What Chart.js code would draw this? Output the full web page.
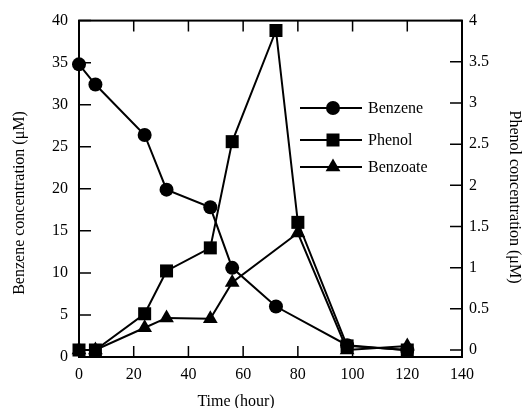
<!DOCTYPE html>
<html>
<head>
<meta charset="utf-8">
<script src="https://cdn.jsdelivr.net/npm/chart.js@4.4.1/dist/chart.umd.min.js"></script>
<style>
  html, body { margin: 0; padding: 0; background: #fff; }
  #wrap { width: 525px; height: 408px; }
</style>
</head>
<body>
<div id="wrap"><canvas id="chem-chart"></canvas></div>
<script>
'use strict';

// values
var benzeneTime = [0, 6, 24, 32, 48, 56, 72, 98, 120];
var benzene = [34.8, 32.4, 26.4, 19.9, 17.8, 10.6, 6.0, 1.4, 0.8];

var phenolTime = [0, 6, 24, 32, 48, 56, 72, 80, 98, 120];
var phenol = [0, 0, 0.44, 0.96, 1.24, 2.53, 3.88, 1.55, 0.05, 0];

var benzoateTime = [0, 6, 24, 32, 48, 56, 80, 98, 120];
var benzoate = [0, 0, 0.27, 0.39, 0.38, 0.82, 1.42, 0.0, 0.05];

var timeTicks = [0, 20, 40, 60, 80, 100, 120, 140];
var benzeneTicks = [0, 5, 10, 15, 20, 25, 30, 35, 40];
var phenolTicks = [0, 0.5, 1, 1.5, 2, 2.5, 3, 3.5, 4];

var FONT = '"Liberation Serif", "Times New Roman", serif';

function toPoints(xs, ys) {
    return xs.map(function (x, i) { return { x: x, y: ys[i] }; });
}

function setTicks(list) {
    return function (scale) {
        scale.ticks = list.map(function (v) { return { value: v }; });
    };
}

function plainLabel(value) {
    return String(value);
}

function drawMarker(ctx, style, x, y) {
    ctx.beginPath();
    if (style === 'circle') {
        ctx.arc(x, y, 7, 0, Math.PI * 2);
    } else if (style === 'rect') {
        ctx.rect(x - 6.5, y - 6.5, 13, 13);
    } else {
        ctx.moveTo(x, y - 8.5);
        ctx.lineTo(x + 7.4, y + 4.3);
        ctx.lineTo(x - 7.4, y + 4.3);
        ctx.closePath();
    }
    ctx.fill();
}

// frame, inward tick marks, legend and axis titles
var decorations = {
    id: 'decorations',
    afterDatasetsDraw: function (chart) {
        var ctx = chart.ctx;
        var a = chart.chartArea;
        var sx = chart.scales.x, sy = chart.scales.y, sy2 = chart.scales.y2;
        ctx.save();
        ctx.strokeStyle = '#000';
        ctx.lineWidth = 2;
        ctx.strokeRect(a.left, a.top, a.right - a.left, a.bottom - a.top);

        ctx.lineWidth = 1.5;
        ctx.beginPath();
        timeTicks.forEach(function (v) {
            var px = sx.getPixelForValue(v);
            ctx.moveTo(px, a.bottom); ctx.lineTo(px, a.bottom - 11);
            ctx.moveTo(px, a.top); ctx.lineTo(px, a.top + 11);
        });
        benzeneTicks.forEach(function (v) {
            var py = sy.getPixelForValue(v);
            ctx.moveTo(a.left, py); ctx.lineTo(a.left + 12, py);
        });
        phenolTicks.forEach(function (v) {
            var py = sy2.getPixelForValue(v);
            ctx.moveTo(a.right, py); ctx.lineTo(a.right - 12, py);
        });
        ctx.stroke();

        // legend
        ctx.fillStyle = '#000';
        ctx.font = '16px ' + FONT;
        ctx.textBaseline = 'middle';
        ctx.textAlign = 'left';
        var rows = [108, 140, 167];
        chart.data.datasets.forEach(function (ds, i) {
            var y = rows[i];
            var x0 = a.left + 221;
            ctx.lineWidth = 2;
            ctx.beginPath();
            ctx.moveTo(x0, y); ctx.lineTo(x0 + 62, y);
            ctx.stroke();
            drawMarker(ctx, ds.pointStyle, x0 + 33, y);
            ctx.fillText(ds.label, x0 + 68, y + 1);
        });

        // axis titles
        ctx.textAlign = 'center';
        ctx.fillText('Time (hour)', 236, 402);

        ctx.save();
        ctx.translate(20, 203);
        ctx.rotate(-Math.PI / 2);
        ctx.fillText('Benzene concentration (\u03bcM)', 0, 0);
        ctx.restore();

        ctx.save();
        ctx.translate(514, 197);
        ctx.rotate(Math.PI / 2);
        ctx.fillText('Phenol concentration (\u03bcM)', 0, 0);
        ctx.restore();

        ctx.restore();
    }
};

var lineDefaults = {
    borderColor: '#000',
    backgroundColor: '#000',
    borderWidth: 2,
    pointBorderWidth: 0,
    pointHoverRadius: 8,
    showLine: true,
    tension: 0,
    clip: false,
};

var datasets = [
    Object.assign({}, lineDefaults, {
        label: 'Benzene',
        data: toPoints(benzeneTime, benzene),
        yAxisID: 'y',
        pointStyle: 'circle',
        pointRadius: 7,
    }),
    Object.assign({}, lineDefaults, {
        label: 'Phenol',
        data: toPoints(phenolTime, phenol),
        yAxisID: 'y2',
        pointStyle: 'rect',
        pointRadius: 9.2,
    }),
    Object.assign({}, lineDefaults, {
        label: 'Benzoate',
        data: toPoints(benzoateTime, benzoate),
        yAxisID: 'y2',
        pointStyle: 'triangle',
        pointRadius: 8.5,
    }),
];

var tickFont = { family: FONT, size: 16 };

new Chart(document.getElementById('chem-chart'), {
    type: 'scatter',
    data: { datasets: datasets },
    options: {
        responsive: true,
        maintainAspectRatio: false,
        animation: false,
        layout: { padding: { top: 20, left: 0, right: 0, bottom: 0 } },
        plugins: {
            legend: { display: false },
            tooltip: { enabled: false },
        },
        scales: {
            x: {
                type: 'linear',
                min: 0,
                max: 140,
                afterBuildTicks: setTicks(timeTicks),
                afterFit: function (scale) { scale.height = 51; },
                grid: { display: false, drawTicks: false },
                border: { display: false },
                ticks: { color: '#000', font: tickFont, padding: 8, maxRotation: 0, callback: plainLabel },
            },
            y: {
                position: 'left',
                min: 0,
                max: 40,
                afterBuildTicks: setTicks(benzeneTicks),
                afterFit: function (scale) { scale.width = 79; },
                grid: { display: false, drawTicks: false },
                border: { display: false },
                ticks: { color: '#000', font: tickFont, padding: 11, callback: plainLabel },
            },
            y2: {
                position: 'right',
                min: -0.085,
                max: 4,
                afterBuildTicks: setTicks(phenolTicks),
                afterFit: function (scale) { scale.width = 63; },
                grid: { display: false, drawTicks: false },
                border: { display: false },
                ticks: { color: '#000', font: tickFont, padding: 7, callback: plainLabel },
            },
        },
    },
    plugins: [decorations],
});
</script>
</body>
</html>
